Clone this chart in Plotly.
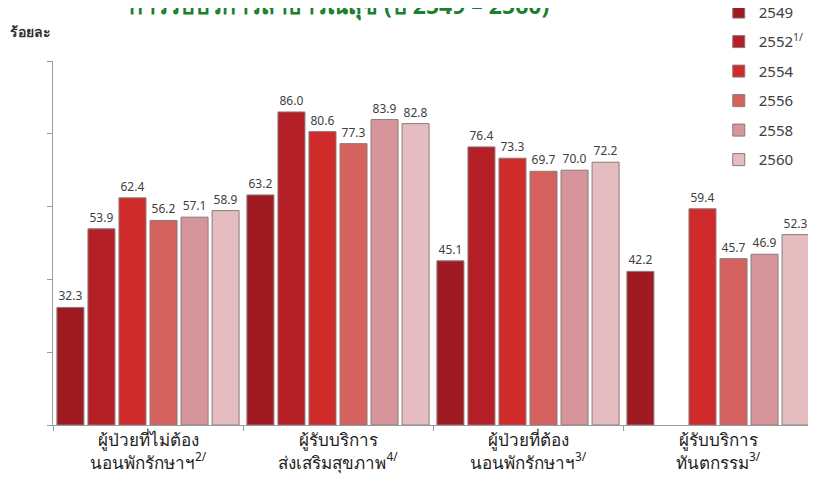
import plotly.graph_objects as go

categories = [
    "ผู้ป่วยที่ไม่ต้อง<br>นอนพักรักษาฯ<sup>2/</sup>",
    "ผู้รับบริการ<br>ส่งเสริมสุขภาพ<sup>4/</sup>",
    "ผู้ป่วยที่ต้อง<br>นอนพักรักษาฯ<sup>3/</sup>",
    "ผู้รับบริการ<br>ทันตกรรม<sup>3/</sup>",
]
series_names = ["2549", "2552<sup>1/</sup>", "2554", "2556", "2558", "2560"]
v2549 = [32.3, 63.2, 45.1, 42.2]
v2552 = [53.9, 86.0, 76.4, None]
v2554 = [62.4, 80.6, 73.3, 59.4]
v2556 = [56.2, 77.3, 69.7, 45.7]
v2558 = [57.1, 83.9, 70.0, 46.9]
v2560 = [58.9, 82.8, 72.2, 52.3]
series_values = [v2549, v2552, v2554, v2556, v2558, v2560]
colors = ["#a01b21", "#b51f26", "#cf2b2b", "#d6625f", "#d5959b", "#e5bdc0"]

fig = go.Figure()
for i, (name, vals, col) in enumerate(zip(series_names, series_values, colors)):
    fig.add_trace(go.Bar(
        x=categories, y=vals, name=name, legendgroup=str(i),
        marker=dict(color=col, line=dict(color="#8a7a7a", width=1)),
        text=[("%.1f" % v) if v is not None else "" for v in vals],
        textposition="outside", cliponaxis=False,
        textfont=dict(size=12, color="#404040", family="Noto Sans"),
    ))

fig.update_layout(
    width=808, height=474,
    margin=dict(l=45, r=3, t=53, b=57, autoexpand=False),
    plot_bgcolor="white", paper_bgcolor="white",
    barmode="group", bargap=0.02, bargroupgap=0.13,
    font=dict(family="Noto Sans", color="#222222"),
    showlegend=True,
    legend=dict(
        x=0.876, y=1.179, xanchor="left", yanchor="top",
        font=dict(size=15, color="#404040"),
        tracegroupgap=7, itemwidth=30, bgcolor="rgba(0,0,0,0)",
    ),
    yaxis=dict(
        range=[0, 100], dtick=20, showticklabels=False, showgrid=False,
        zeroline=False, showline=True, linecolor="#9a9a9a", linewidth=1,
        ticks="outside", ticklen=5, tickcolor="#9a9a9a", automargin=False,
    ),
    xaxis=dict(
        showline=True, linecolor="#9a9a9a", linewidth=1,
        ticks="outside", ticklen=5, tickcolor="#9a9a9a", tickson="boundaries",
        tickfont=dict(size=17, color="#222222"), automargin=False,
    ),
    annotations=[
        dict(text="<b>ร้อยละ</b>", xref="paper", yref="paper",
             x=-0.059, y=1.08, xanchor="left", yanchor="middle",
             showarrow=False, font=dict(size=14, color="#333333")),
        dict(text="<b>การรับบริการสาธารณสุข (ปี 2549 – 2560)</b>", xref="paper", yref="paper",
             x=0.097, y=1.155, xanchor="left", yanchor="middle",
             showarrow=False, font=dict(size=23, color="#1a7f2e")),
    ],
)

fig.write_html("out.html")
